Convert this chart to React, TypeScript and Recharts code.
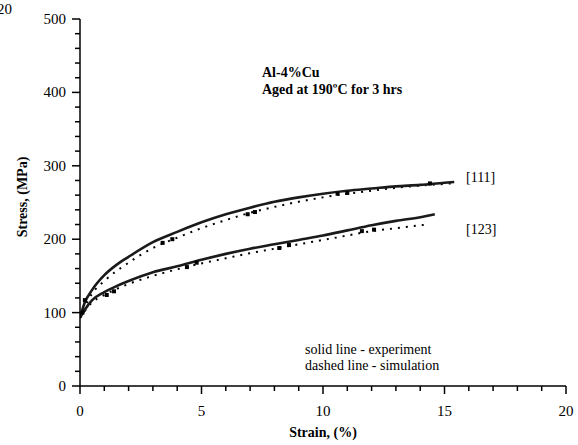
import React from "react";
import {
  ComposedChart,
  Line,
  Scatter,
  XAxis,
  YAxis,
} from "recharts";

// experiment [111]
const exp111Strain = [0, 0.2, 0.5, 1, 1.5, 2, 3, 4, 5, 6, 7, 8, 9, 10, 11, 12, 13, 14, 15, 15.4];
const exp111Stress = [93, 114, 131, 151, 165, 176, 196, 210, 223, 234, 243, 251, 257, 262, 266, 269, 272, 274, 277, 278];

// experiment [123]
const exp123Strain = [0, 0.2, 0.5, 1, 1.5, 2, 3, 4, 5, 6, 7, 8, 9, 10, 11, 12, 13, 14, 14.6];
const exp123Stress = [93, 104, 117, 128, 136, 143, 155, 163, 172, 180, 187, 193, 199, 205, 212, 219, 225, 230, 234];

// simulation [111]
const sim111Strain = [0, 0.5, 1, 2, 3, 4, 5, 6, 7, 8, 9, 10, 11, 12, 13, 14, 15.3];
const sim111Stress = [93, 126, 143, 168, 188, 202, 215, 226, 236, 244, 251, 257, 262, 266, 270, 273, 276];

// simulation [123]
const sim123Strain = [0, 0.5, 1, 2, 3, 4, 5, 6, 7, 8, 9, 10, 11, 12, 13, 14, 14.3];
const sim123Stress = [93, 114, 124, 139, 150, 159, 167, 174, 181, 187, 193, 199, 205, 211, 215, 219, 220];

// square blobs along the simulation curves
const sq111Strain = [0.2, 3.4, 3.8, 6.9, 7.2, 10.6, 11.0, 14.4];
const sq111Stress = [117, 195, 200, 234, 237, 262, 263, 276];
const sq123Strain = [0.1, 1.1, 1.4, 4.4, 4.8, 8.2, 8.6, 11.6, 12.1];
const sq123Stress = [100, 124, 129, 162, 168, 188, 192, 211, 213];

const xTicks = [0, 1, 2, 3, 4, 5, 6, 7, 8, 9, 10, 11, 12, 13, 14, 15, 16, 17, 18, 19, 20];
const yTicks = [
  0, 20, 40, 60, 80, 100, 120, 140, 160, 180, 200, 220, 240, 260, 280, 300,
  320, 340, 360, 380, 400, 420, 440, 460, 480, 500,
];

const toPts = (xs: number[], ys: number[]) => xs.map((x, i) => ({ x, y: ys[i] }));

const FONT = '"Liberation Serif", Tinos, "Times New Roman", "DejaVu Serif", serif';
const txt = { fontFamily: FONT };

const XTick = (props: any) => {
  const { x, y, payload } = props;
  const major = payload.value % 5 === 0;
  return (
    <g>
      <line x1={x} y1={y} x2={x} y2={y + (major ? 8 : 5)} stroke="#000" strokeWidth={1.5} />
      {major && (
        <text x={x} y={y + 30} textAnchor="middle" fontSize={15} style={txt} fill="#000">
          {payload.value}
        </text>
      )}
    </g>
  );
};

const YTick = (props: any) => {
  const { x, y, payload } = props;
  const major = payload.value % 100 === 0;
  return (
    <g>
      <line x1={x} y1={y} x2={x - (major ? 8 : 5)} y2={y} stroke="#000" strokeWidth={1.5} />
      {major && (
        <text x={x - 14} y={y + 5} textAnchor="end" fontSize={15} style={txt} fill="#000">
          {payload.value}
        </text>
      )}
    </g>
  );
};

const Square = (props: any) => {
  const { cx, cy } = props;
  return <rect x={cx - 2} y={cy - 2} width={4} height={4} fill="#000" />;
};

export default function App() {
  const W = 578;
  const H = 445;
  return (
    <div style={{ position: "absolute", left: 0, top: 0, width: W, height: H, background: "#fff" }}>
      <ComposedChart width={W} height={H} margin={{ top: 19, right: 12, bottom: 0, left: 0 }}>
        <XAxis
          type="number"
          dataKey="x"
          domain={[0, 20]}
          ticks={xTicks}
          interval={0}
          tickSize={0}
          tickMargin={0}
          tick={<XTick />}
          height={59}
          axisLine={{ stroke: "#000", strokeWidth: 1.5 }}
          allowDataOverflow
        />
        <YAxis
          type="number"
          domain={[0, 500]}
          ticks={yTicks}
          interval={0}
          tickSize={0}
          tickMargin={0}
          tick={<YTick />}
          width={80}
          axisLine={{ stroke: "#000", strokeWidth: 1.5 }}
          allowDataOverflow
        />
        <Line
          data={toPts(sim111Strain, sim111Stress)}
          dataKey="y"
          type="monotone"
          stroke="#000"
          strokeWidth={2}
          strokeDasharray="2 6"
          dot={false}
          isAnimationActive={false}
        />
        <Line
          data={toPts(sim123Strain, sim123Stress)}
          dataKey="y"
          type="monotone"
          stroke="#000"
          strokeWidth={2}
          strokeDasharray="2 6"
          dot={false}
          isAnimationActive={false}
        />
        <Line
          data={toPts(exp111Strain, exp111Stress)}
          dataKey="y"
          type="monotone"
          stroke="#1a1a1a"
          strokeWidth={2.6}
          dot={false}
          isAnimationActive={false}
        />
        <Line
          data={toPts(exp123Strain, exp123Stress)}
          dataKey="y"
          type="monotone"
          stroke="#1a1a1a"
          strokeWidth={2.6}
          dot={false}
          isAnimationActive={false}
        />
        <Scatter data={toPts(sq111Strain, sq111Stress)} dataKey="y" shape={<Square />} isAnimationActive={false} />
        <Scatter data={toPts(sq123Strain, sq123Stress)} dataKey="y" shape={<Square />} isAnimationActive={false} />
      </ComposedChart>
      <svg
        width={W}
        height={H}
        style={{ position: "absolute", left: 0, top: 0, pointerEvents: "none", fontFamily: FONT }}
      >
        <text x={-3} y={14} fontSize={15} style={txt} fill="#000">20</text>
        <text
          x={22}
          y={197}
          transform="rotate(-90 22 197)"
          textAnchor="middle"
          dominantBaseline="central"
          fontSize={14}
          fontWeight="bold"
          style={txt}
          fill="#000"
        >
          Stress, (MPa)
        </text>
        <text x={323} y={437} textAnchor="middle" fontSize={14} fontWeight="bold" style={txt} fill="#000">
          Strain, (%)
        </text>
        <text x={262} y={77} fontSize={14} fontWeight="bold" style={txt} fill="#000">Al-4%Cu</text>
        <text x={262} y={94} fontSize={14} fontWeight="bold" style={txt} fill="#000">Aged at 190ºC for 3 hrs</text>
        <text x={466} y={182} fontSize={14} style={txt} fill="#000">[111]</text>
        <text x={466} y={234} fontSize={14} style={txt} fill="#000">[123]</text>
        <text x={305} y={354} fontSize={14} style={txt} fill="#000">solid line - experiment</text>
        <text x={305} y={370} fontSize={14} style={txt} fill="#000">dashed line - simulation</text>
      </svg>
    </div>
  );
}
